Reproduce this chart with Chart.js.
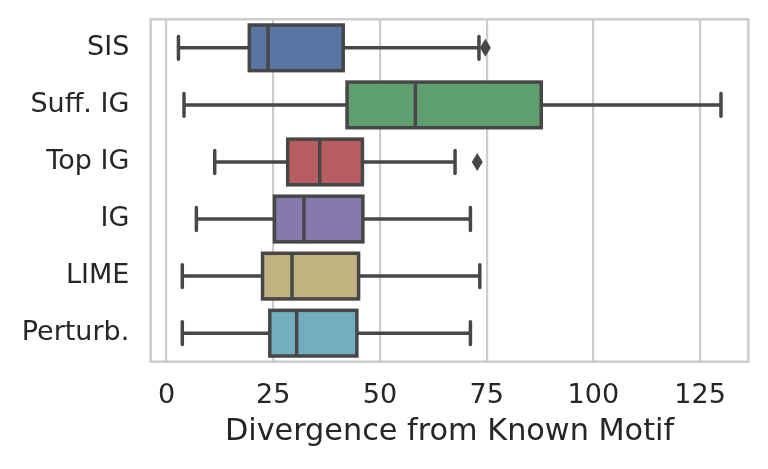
<!DOCTYPE html>
<html><head><meta charset="utf-8">
<script src="https://cdn.jsdelivr.net/npm/chart.js@4.4.1/dist/chart.umd.min.js"></script>
<style>html,body{margin:0;padding:0;background:#fff;}</style>
</head><body>
<canvas id="c" width="768" height="469"></canvas>
<script>
const categories = ['SIS', 'Suff. IG', 'Top IG', 'IG', 'LIME', 'Perturb.'];
const whiskerLow = [2.8, 4.1, 11.3, 7.0, 3.7, 3.7];
const q1 = [19.4, 42.3, 28.4, 25.3, 22.5, 24.2];
const median = [23.8, 58.3, 35.9, 32.2, 29.4, 30.5];
const q3 = [41.4, 87.8, 45.9, 46.0, 45.0, 44.6];
const whiskerHigh = [73.2, 129.9, 67.6, 71.2, 73.4, 71.2];
const outliers = [[74.7], [], [72.8], [], [], []];
const xTicks = [0, 25, 50, 75, 100, 125];
const fillColors = ['#5875a4', '#5f9e6e', '#b55d60', '#857aab', '#c1b37f', '#71aec0'];
const xTitle = 'Divergence from Known Motif';

const LINE = '#474747';
const FONT = 'DejaVu Sans';

const boxPlugin = {
  id: 'boxPlugin',
  beforeDatasetsDraw(chart) {
    const a = chart.chartArea, ctx = chart.ctx;
    ctx.save();
    ctx.strokeStyle = '#cccccc';
    ctx.lineWidth = 2.5;
    ctx.strokeRect(a.left, a.top, a.right - a.left, a.bottom - a.top);
    ctx.restore();
  },
  afterDatasetsDraw(chart) {
    const ctx = chart.ctx, xs = chart.scales.x, ys = chart.scales.y;
    const meta = chart.getDatasetMeta(0);
    ctx.save();
    ctx.strokeStyle = LINE;
    ctx.fillStyle = LINE;
    ctx.lineWidth = 3.5;
    categories.forEach((c, i) => {
      const y = ys.getPixelForValue(i);
      const h = meta.data[i].height;
      const x1 = xs.getPixelForValue(q1[i]);
      const x3 = xs.getPixelForValue(q3[i]);
      const xm = xs.getPixelForValue(median[i]);
      const xl = xs.getPixelForValue(whiskerLow[i]);
      const xh = xs.getPixelForValue(whiskerHigh[i]);
      ctx.lineCap = 'butt';
      ctx.lineJoin = 'miter';
      ctx.strokeRect(x1, y - h / 2, x3 - x1, h);
      ctx.beginPath(); ctx.moveTo(xm, y - h / 2); ctx.lineTo(xm, y + h / 2); ctx.stroke();
      ctx.beginPath();
      ctx.moveTo(x1, y); ctx.lineTo(xl, y);
      ctx.moveTo(x3, y); ctx.lineTo(xh, y);
      ctx.stroke();
      ctx.lineCap = 'round';
      const ch = h * 0.5;
      ctx.beginPath();
      ctx.moveTo(xl, y - ch / 2); ctx.lineTo(xl, y + ch / 2);
      ctx.moveTo(xh, y - ch / 2); ctx.lineTo(xh, y + ch / 2);
      ctx.stroke();
      outliers[i].forEach(v => {
        const xo = xs.getPixelForValue(v);
        ctx.beginPath();
        ctx.moveTo(xo, y - 9);
        ctx.lineTo(xo + 5.5, y);
        ctx.lineTo(xo, y + 9);
        ctx.lineTo(xo - 5.5, y);
        ctx.closePath();
        ctx.fill();
      });
    });
    ctx.restore();
  }
};

new Chart(document.getElementById('c'), {
  type: 'bar',
  data: {
    labels: categories,
    datasets: [{
      data: categories.map((_, i) => [q1[i], q3[i]]),
      backgroundColor: fillColors,
      borderWidth: 0,
      barPercentage: 0.8,
      categoryPercentage: 1.0
    }]
  },
  options: {
    indexAxis: 'y',
    responsive: false,
    animation: false,
    devicePixelRatio: 1,
    layout: { padding: { top: 19.3, right: 19.7, left: 0, bottom: 0 } },
    plugins: { legend: { display: false }, tooltip: { enabled: false } },
    scales: {
      x: {
        type: 'linear',
        min: -3.7,
        max: 136.3,
        afterBuildTicks(s) { s.ticks = xTicks.map(v => ({ value: v })); },
        afterFit(s) { s.height = 107.3; s.paddingLeft = 0; s.paddingRight = 0; },
        grid: { color: '#cccccc', lineWidth: 2.2, drawTicks: false },
        border: { display: false },
        ticks: { font: { family: FONT, size: 27 }, color: '#262626', padding: 18, maxRotation: 0 },
        title: { display: true, text: xTitle, font: { family: FONT, size: 30.3 }, color: '#262626', padding: { top: 0, bottom: 19 } }
      },
      y: {
        type: 'category',
        afterFit(s) { s.width = 150.7; s.paddingTop = 0; s.paddingBottom = 0; },
        grid: { display: false, drawTicks: false },
        border: { display: false },
        ticks: { font: { family: FONT, size: 27 }, color: '#262626', padding: 21.4 }
      }
    }
  },
  plugins: [boxPlugin]
});
</script>
</body></html>
